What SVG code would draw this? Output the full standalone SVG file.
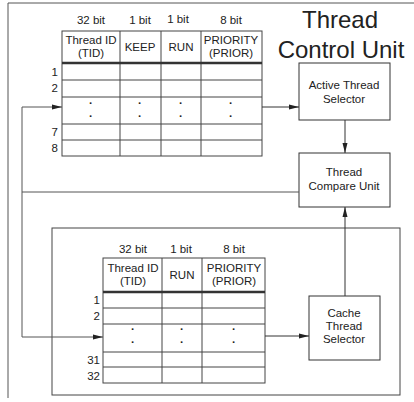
<svg xmlns="http://www.w3.org/2000/svg" width="414" height="402" viewBox="0 0 414 402">
<defs>
<marker id="ah" markerWidth="10" markerHeight="6" refX="10" refY="3" orient="auto" markerUnits="userSpaceOnUse"><path d="M0,0.5 L10,3 L0,5.5 Z" fill="#222"/></marker>
<style>
text{font-family:"Liberation Sans","Noto Sans CJK JP",sans-serif;fill:#222;font-size:11.5px}
.c{text-anchor:middle}
.r{text-anchor:end}
.g{fill:none;stroke:#444;stroke-width:1}
.box{fill:#fff;stroke:#333;stroke-width:1}
.thick{stroke:#333;stroke-width:2.5}
.ln{fill:none;stroke:#555;stroke-width:1}
.dot{font-size:12px;font-weight:bold}
.t{font-size:24px}
</style>
</defs>
<rect width="414" height="402" fill="#fff"/>
<g id="frame">
<path class="ln" d="M8,398 V3 H414"/>
</g>
<g id="inner-frame">
<rect x="52" y="228" width="348" height="167" fill="none" stroke="#444"/>
</g>
<g id="title">
<text class="c t" x="340" y="28">Thread</text>
<text class="c t" x="341" y="58">Control Unit</text>
</g>
<g id="table-top">
<text class="c" x="91" y="24">32 bit</text>
<text class="c" x="140" y="24">1 bit</text>
<text class="c" x="178" y="23">1 bit</text>
<text class="c" x="231" y="24">8 bit</text>
<rect class="g" x="62" y="31" width="200" height="125"/>
<path class="g" d="M120,31 V156 M161,31 V156 M201,31 V156 M62,80 H262 M62,97 H262 M62,124 H262 M62,140 H262"/>
<path class="thick" d="M62,63 H262"/>
<text class="c" x="91" y="44">Thread ID</text>
<text class="c" x="91" y="57">(TID)</text>
<text class="c" x="140" y="51">KEEP</text>
<text class="c" x="181" y="51">RUN</text>
<text class="c" x="231" y="44">PRIORITY</text>
<text class="c" x="231" y="57">(PRIOR)</text>
<text class="r" x="58" y="76">1</text>
<text class="r" x="58" y="92">2</text>
<text class="r" x="58" y="136">7</text>
<text class="r" x="58" y="152">8</text>
<g class="dot">
<text class="c" x="91" y="107">·</text><text class="c" x="91" y="120">·</text>
<text class="c" x="140" y="107">·</text><text class="c" x="140" y="120">·</text>
<text class="c" x="181" y="107">·</text><text class="c" x="181" y="120">·</text>
<text class="c" x="231" y="107">·</text><text class="c" x="231" y="120">·</text>
</g>
</g>
<g id="table-bottom">
<text class="c" x="133" y="253">32 bit</text>
<text class="c" x="181" y="253">1 bit</text>
<text class="c" x="234" y="253">8 bit</text>
<rect class="g" x="103" y="258" width="162" height="125"/>
<path class="g" d="M162,258 V383 M202,258 V383 M103,308 H265 M103,324 H265 M103,352 H265 M103,367 H265"/>
<path class="thick" d="M103,292 H265"/>
<text class="c" x="133" y="272">Thread ID</text>
<text class="c" x="133" y="285">(TID)</text>
<text class="c" x="182" y="279">RUN</text>
<text class="c" x="234" y="272">PRIORITY</text>
<text class="c" x="234" y="285">(PRIOR)</text>
<text class="r" x="100" y="304">1</text>
<text class="r" x="100" y="320">2</text>
<text class="r" x="100" y="364">31</text>
<text class="r" x="100" y="380">32</text>
<g class="dot">
<text class="c" x="133" y="333">·</text><text class="c" x="133" y="346">·</text>
<text class="c" x="182" y="333">·</text><text class="c" x="182" y="346">·</text>
<text class="c" x="234" y="333">·</text><text class="c" x="234" y="346">·</text>
</g>
</g>
<g id="active-thread-selector">
<rect class="box" x="299" y="63" width="91" height="57"/>
<text class="c" x="344" y="89">Active Thread</text>
<text class="c" x="344" y="103">Selector</text>
</g>
<g id="thread-compare-unit">
<rect class="box" x="299" y="153" width="91" height="54"/>
<text class="c" x="344" y="176">Thread</text>
<text class="c" x="344" y="190">Compare Unit</text>
</g>
<g id="cache-thread-selector">
<rect class="box" x="309" y="296" width="71" height="64"/>
<text class="c" x="344" y="317">Cache</text>
<text class="c" x="344" y="330">Thread</text>
<text class="c" x="344" y="343">Selector</text>
</g>
<g id="connectors" fill="none" stroke="#333" stroke-width="1">
<path d="M262,107 H299" marker-end="url(#ah)"/>
<path d="M345,120 V153" marker-end="url(#ah)"/>
<path d="M345,296 V207" marker-end="url(#ah)"/>
<path d="M265,336 H309" marker-end="url(#ah)"/>
<path d="M299,192 H22" stroke="#555"/>
<path d="M22,192 V107 H62" stroke="#555" marker-end="url(#ah)"/>
<path d="M22,192 V337 H103" stroke="#555" marker-end="url(#ah)"/>
</g>
</svg>
